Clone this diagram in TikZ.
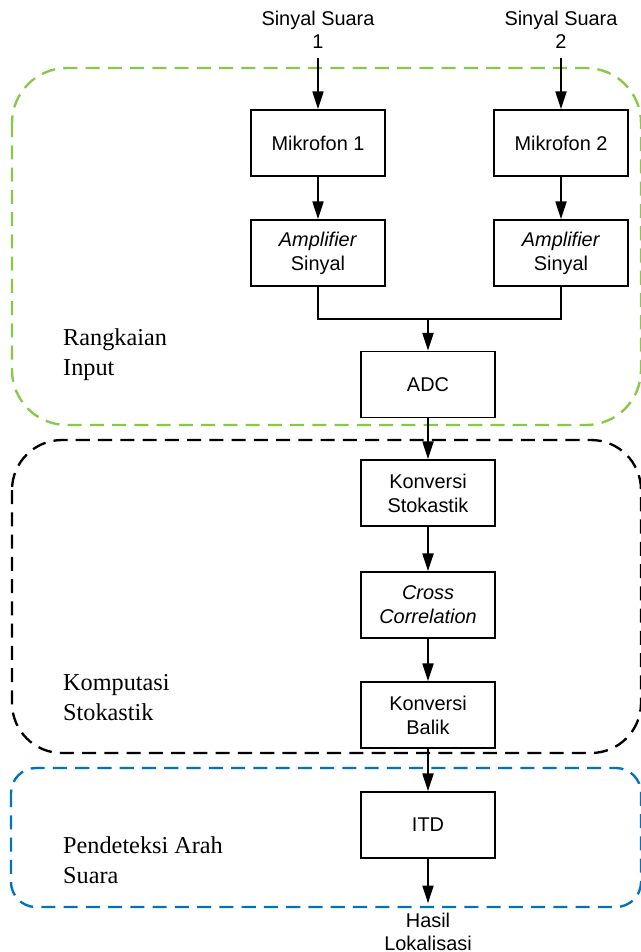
\documentclass[tikz,border=0pt]{standalone}
\usepackage{fontspec}
\setmainfont{Liberation Serif}
\setsansfont{Liberation Sans}
\usetikzlibrary{arrows.meta}
\definecolor{hijau}{RGB}{137,200,70}
\definecolor{biru}{RGB}{0,114,190}

\begin{document}
\begin{tikzpicture}[x=0.03cm,y=-0.03cm,
    blok/.style={draw,line width=1.6pt,minimum width=4.02cm,minimum height=1.98cm,align=center,inner sep=0pt,font=\sffamily\fontsize{17}{20.4}\selectfont},
    teks/.style={align=center,inner sep=8pt,font=\sffamily\fontsize{17}{19.5}\selectfont},
    ket/.style={anchor=base west,align=left,inner sep=0pt,font=\fontsize{20.7}{25.5}\selectfont},
    panah/.style={line width=1.1pt,-{Triangle[length=15pt,width=9.5pt]}},
    kotak/.style={line width=2pt,dash pattern=on 12pt off 7pt}]
                \useasboundingbox (0,0) rectangle (640,952);
                \draw[kotak,hijau,rounded corners=1.65cm] (12,68) rectangle (641,425);
                \draw[kotak,black,rounded corners=1.5cm] (12,440) rectangle (641,753);
                \draw[kotak,biru,rounded corners=0.75cm] (11,768) rectangle (641,907);
                \node[ket] (lblinput) at (63,375) {Rangkaian\\Input};
                \node[ket] (lblstok) at (63,720) {Komputasi\\Stokastik};
                \node[ket] (lblarah) at (63,883) {Pendeteksi Arah\\Suara};
                \node[teks,anchor=base] (sinyal1) at (318,48) {Sinyal Suara\\1};
                \node[teks,anchor=base] (sinyal2) at (561,48) {Sinyal Suara\\2};
                \node[blok] (mik1) at (318,143) {Mikrofon 1};
                \node[blok] (mik2) at (561,143) {Mikrofon 2};
                \node[blok] (amp1) at (318,253) {\textit{Amplifier}\\Sinyal};
                \node[blok] (amp2) at (561,253) {\textit{Amplifier}\\Sinyal};
                \node[blok] (adc) at (428,384.5) {ADC};
                \node[blok] (stok) at (428,493) {Konversi\\Stokastik};
                \node[blok] (cc) at (428,605) {\textit{Cross}\\\textit{Correlation}};
                \node[blok] (balik) at (428,715) {Konversi\\Balik};
                \node[blok] (itd) at (428,825) {ITD};
                \node[teks,anchor=base] (hasil) at (428,950) {Hasil\\Lokalisasi};
                \coordinate (gabung) at (428,319);
                \draw[panah] (sinyal1.south) -- (mik1);
                \draw[panah] (sinyal2.south) -- (mik2);
                \draw[panah] (mik1) -- (amp1);
                \draw[panah] (mik2) -- (amp2);
                \draw[line width=1.1pt] (amp1.south) |- (gabung) -| (amp2.south);
                \draw[panah] (gabung) -- (adc);
                \draw[panah] (adc) -- (stok);
                \draw[panah] (stok) -- (cc);
                \draw[panah] (cc) -- (balik);
                \draw[panah] (balik) -- (itd);
                \draw[panah] (itd) -- (hasil);
            \end{tikzpicture}
\end{document}
